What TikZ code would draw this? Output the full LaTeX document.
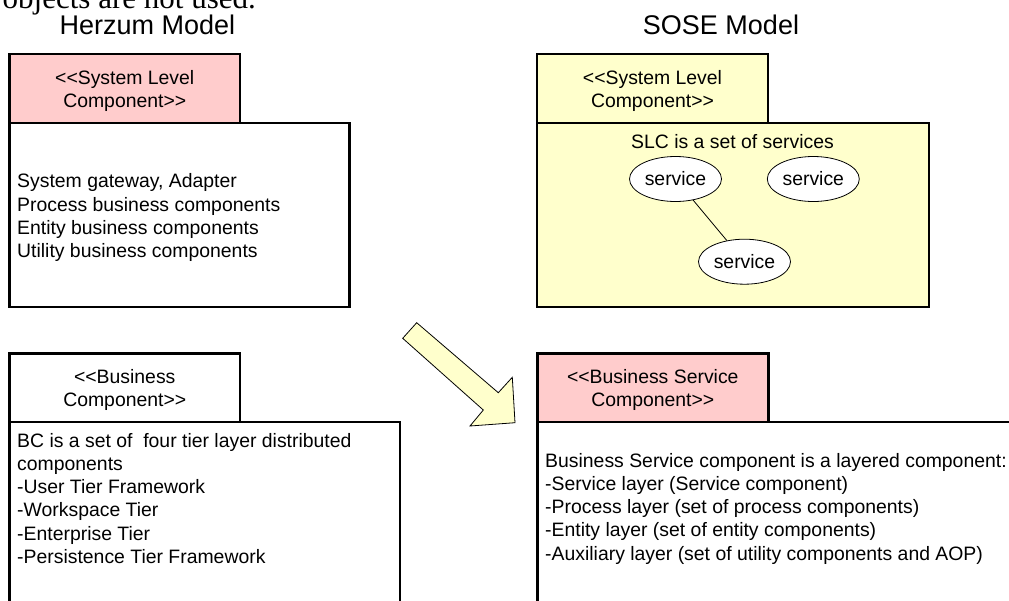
\documentclass[tikz,border=0pt]{standalone}
\usepackage{fontspec}
\setmainfont{Liberation Sans}
\newfontfamily\serifface{Liberation Serif}
\usetikzlibrary{shapes.geometric}
\definecolor{tabpink}{HTML}{FFCCCC}
\definecolor{paleyellow}{HTML}{FFFFCC}
% guillemet-free stereotype brackets
\newcommand{\stl}{{<}{<}}
\newcommand{\str}{{>}{>}}

\begin{document}
\begin{tikzpicture}[x=1pt,y=-1pt,
  frame/.style={draw=black, line width=2.6pt, inner sep=0pt, outer sep=0pt},
  tabtext/.style={align=center, inner sep=0pt, font=\fontsize{19.4pt}{23.3pt}\selectfont},
  bodytext/.style={align=left, anchor=north west, inner sep=0pt, font=\fontsize{19.4pt}{23.3pt}\selectfont},
  heading/.style={anchor=base, inner sep=0pt, font=\fontsize{27pt}{30pt}\selectfont},
  service/.style={ellipse, draw, line width=0.8pt, fill=white, minimum width=92pt,
    minimum height=45pt, inner sep=0pt, font=\fontsize{19.4pt}{23pt}\selectfont},
  bigarrow/.style={draw, line width=0.8pt, fill=paleyellow, line join=miter}]
\useasboundingbox (0,0) rectangle (1009,600);
\clip (0,0) rectangle (1009,600);

% running text above the figure
\node[anchor=base east, inner sep=0pt, font=\serifface\fontsize{31pt}{33pt}\selectfont]
  (caption) at (256,8) {objects are not used.};

% column headings
\node[heading] (herzum) at (147.5,34) {Herzum Model};
\node[heading] (sose) at (721,34) {SOSE Model};

% Herzum: system level component
\node[frame, fill=white, minimum width=340pt, minimum height=184pt] (hslc) at (179.5,215) {};
\node[frame, fill=tabpink, minimum width=230.5pt, minimum height=69pt] (hslctab) at (124.75,88.5) {};
\node[tabtext] (hslctabtxt) at (124.75,91) {\stl System Level\\Component\str};
\node[bodytext] (hslctxt) at (17,173.5) {System gateway, Adapter\\Process business components\\Entity business components\\Utility business components};

% SOSE: system level component
\node[frame, fill=paleyellow, minimum width=392pt, minimum height=184pt] (sslc) at (733,215) {};
\node[frame, fill=paleyellow, minimum width=231pt, minimum height=69pt] (sslctab) at (652.5,88.5) {};
\node[tabtext] (sslctabtxt) at (652.5,91) {\stl System Level\\Component\str};
\node[anchor=base, inner sep=0pt, font=\fontsize{19.4pt}{23.3pt}\selectfont] (sslctxt) at (732.5,148) {SLC is a set of services};
\node[service] (s1) at (675.5,179) {service};
\node[service] (s2) at (813.3,179) {service};
\node[service] (s3) at (744.5,261.7) {service};
\draw[line width=0.8pt] (s1) -- (s3);

% Herzum: business component
\node[frame, fill=white, minimum width=390.5pt, minimum height=200pt] (hbc) at (204.75,522) {};
\node[frame, fill=white, minimum width=230.5pt, minimum height=68.5pt] (hbctab) at (124.75,387.75) {};
\node[tabtext] (hbctabtxt) at (124.75,389.7) {\stl Business\\Component\str};
\node[bodytext] (hbctxt) at (17,432.8) {BC is a set of\ \ four tier layer distributed\\components\\-User Tier Framework\\-Workspace Tier\\-Enterprise Tier\\-Persistence Tier Framework};

% SOSE: business service component
\node[frame, fill=white, minimum width=490pt, minimum height=200pt] (sbsc) at (782.5,522) {};
\node[frame, fill=tabpink, minimum width=231pt, minimum height=68.5pt] (sbsctab) at (652.8,387.75) {};
\node[tabtext] (sbsctabtxt) at (652.8,389.7) {\stl Business Service\\Component\str};
\node[bodytext] (sbsctxt) at (545,452.8) {Business Service component is a layered component:\\-Service layer (Service component)\\-Process layer (set of process components)\\-Entity layer (set of entity components)\\-Auxiliary layer (set of utility components and AOP)};

% block arrow from the Herzum side to the SOSE side
\draw[bigarrow] (416.7,322.7) -- (498.3,392.7) -- (512.3,377.3) -- (515,422.7)
  -- (470,426) -- (483.3,410) -- (402.7,338.3) -- cycle;
\end{tikzpicture}
\end{document}
